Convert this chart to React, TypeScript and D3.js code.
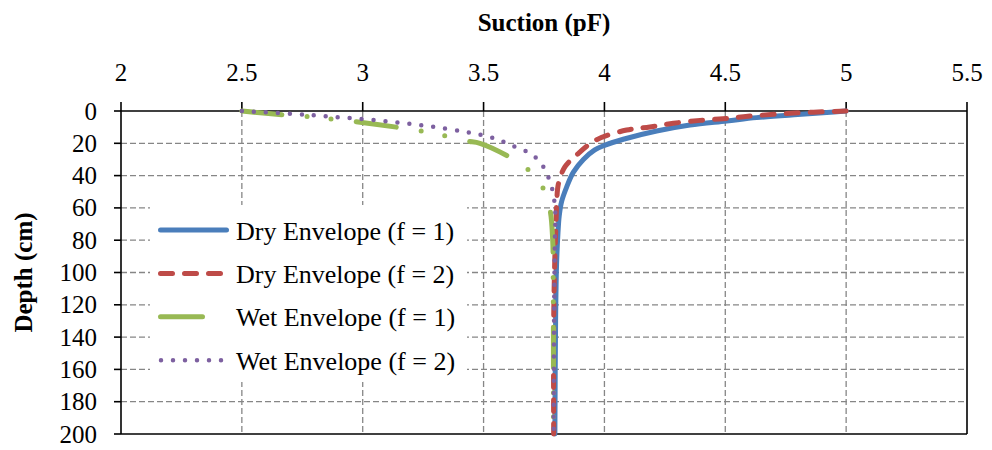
import React from 'react';
import * as d3 from 'd3';

const xTicks = [2, 2.5, 3, 3.5, 4, 4.5, 5, 5.5];
const yTicks = [0, 20, 40, 60, 80, 100, 120, 140, 160, 180, 200];
const xGrid = [2.5, 3, 3.5, 4, 4.5, 5];
const yGrid = [20, 40, 60, 80, 100, 120, 140, 160, 180];

const seriesNames = ['Dry Envelope (f = 1)', 'Dry Envelope (f = 2)', 'Wet Envelope (f = 1)', 'Wet Envelope (f = 2)'];

const dryF1Depth = [0, 1, 2.2, 4.1, 6.2, 8.7, 12.4, 17.5, 21.3, 24.1, 30, 38, 47, 56, 65, 75, 95, 130, 200];
const dryF1Suction = [5.0, 4.92, 4.8, 4.63, 4.506, 4.354, 4.216, 4.078, 4.0, 3.96, 3.913, 3.871, 3.844, 3.823, 3.813, 3.808, 3.802, 3.798, 3.795];

const dryF2Depth = [0, 1.4, 3.5, 4.8, 5.8, 7.6, 9.9, 11.8, 18, 27.2, 34.5, 44.8, 55, 68, 90, 130, 200];
const dryF2Suction = [5.0, 4.768, 4.575, 4.49, 4.396, 4.285, 4.188, 4.092, 3.965, 3.885, 3.837, 3.81, 3.803, 3.8, 3.795, 3.79, 3.79];

const wetF1Depth = [0, 2.5, 3.5, 5, 6.6, 10.3, 12.4, 15.3, 18.6, 20, 27.9, 36.1, 47.5, 61.3, 80, 100, 140, 200];
const wetF1Suction = [2.5, 2.678, 2.775, 2.874, 2.968, 3.154, 3.244, 3.34, 3.43, 3.485, 3.6, 3.683, 3.745, 3.775, 3.786, 3.788, 3.789, 3.789];

const wetF2Depth = [0, 1.7, 3.3, 5, 7.2, 9.9, 13.4, 16.7, 19.5, 22.2, 25.3, 29.4, 35.2, 41.8, 48.9, 56, 63.6, 80, 120, 200];
const wetF2Suction = [2.5, 2.703, 2.851, 3.0, 3.149, 3.296, 3.443, 3.54, 3.59, 3.63, 3.68, 3.72, 3.75, 3.77, 3.785, 3.793, 3.797, 3.795, 3.792, 3.79];

const FONT = "'Liberation Serif', 'Times New Roman', Times, serif";

export default function App() {
  const W = 992;
  const H = 450;
  const x = d3.scaleLinear().domain([2, 5.5]).range([121, 967]);
  const y = d3.scaleLinear().domain([0, 200]).range([111, 434]);

  const line = d3
    .line<[number, number]>()
    .x((d) => x(d[0]))
    .y((d) => y(d[1]))
    .curve(d3.curveCatmullRom.alpha(0.5));

  const mk = (s: number[], dp: number[]) => s.map((v, i) => [v, dp[i]] as [number, number]);

  const series = [
    { pts: mk(dryF1Suction, dryF1Depth), color: '#4A7EBB', width: 5, dash: undefined as string | undefined },
    { pts: mk(dryF2Suction, dryF2Depth), color: '#BE4B48', width: 5, dash: '12,12' },
    { pts: mk(wetF1Suction, wetF1Depth), color: '#98B954', width: 5, dash: '40,25.5,0,24,0,25.5' },
    { pts: mk(wetF2Suction, wetF2Depth), color: '#7D60A0', width: 4.5, dash: '0,12' },
  ];

  const [x0, x1] = x.range();
  const [y0, y1] = y.range();
  const legendRowY = (i: number) => 230 + i * 43.4;
  const ts = { fontFamily: FONT };

  return (
    <svg width={W} height={H} style={{ position: 'absolute', left: 0, top: 0, background: '#fff' }}>
      <rect x={0} y={0} width={W} height={H} fill="#fff" />
      {xGrid.map((t) => (
        <line key={'gx' + t} x1={x(t)} x2={x(t)} y1={y0} y2={y1} stroke="#868686" strokeWidth={1.3} strokeDasharray="6,3" />
      ))}
      {yGrid.map((t) => (
        <line key={'gy' + t} x1={x0} x2={x1} y1={y(t)} y2={y(t)} stroke="#868686" strokeWidth={1.3} strokeDasharray="6,3" />
      ))}

      <rect x={150} y={205} width={317} height={177} fill="#fff" />

      <line x1={x0} x2={x1} y1={y0} y2={y0} stroke="#000" strokeWidth={1.6} />
      <line x1={x0} x2={x1} y1={y1} y2={y1} stroke="#000" strokeWidth={1.6} />
      <line x1={x0} x2={x0} y1={y0} y2={y1} stroke="#000" strokeWidth={1.6} />
      <line x1={x1} x2={x1} y1={y0} y2={y1} stroke="#000" strokeWidth={1.6} />

      {xTicks.map((t) => (
        <g key={'xt' + t}>
          <line x1={x(t)} x2={x(t)} y1={y0 - 9} y2={y0} stroke="#000" strokeWidth={1.6} />
          <text x={x(t)} y={81} textAnchor="middle" fontSize={25} fill="#000" style={ts}>
            {t}
          </text>
        </g>
      ))}
      {yTicks.map((t) => (
        <g key={'yt' + t}>
          <line x1={x0 - 7} x2={x0} y1={y(t)} y2={y(t)} stroke="#000" strokeWidth={1.6} />
          <text x={97} y={y(t) + 8.5} textAnchor="end" fontSize={25} fill="#000" style={ts}>
            {t}
          </text>
        </g>
      ))}

      <text x={(x0 + x1) / 2} y={31} textAnchor="middle" fontSize={25} fontWeight="bold" fill="#000" style={ts}>
        Suction (pF)
      </text>
      <text
        transform={`translate(32, ${(y0 + y1) / 2}) rotate(-90)`}
        textAnchor="middle"
        fontSize={25}
        fontWeight="bold"
        fill="#000"
        style={ts}
      >
        Depth (cm)
      </text>

      {series.map((s, i) => (
        <path
          key={'s' + i}
          d={line(s.pts) || ''}
          fill="none"
          stroke={s.color}
          strokeWidth={s.width}
          strokeDasharray={s.dash}
          strokeLinecap="round"
          strokeLinejoin="round"
        />
      ))}

      <line x1={160.5} x2={226.5} y1={legendRowY(0)} y2={legendRowY(0)} stroke={series[0].color} strokeWidth={5} strokeLinecap="round" />
      <line x1={160.5} x2={220.5} y1={legendRowY(1)} y2={legendRowY(1)} stroke={series[1].color} strokeWidth={5} strokeLinecap="round" strokeDasharray="12,12" />
      <line x1={160.5} x2={202.5} y1={legendRowY(2)} y2={legendRowY(2)} stroke={series[2].color} strokeWidth={5} strokeLinecap="round" />
      <line x1={161} x2={221.5} y1={legendRowY(3)} y2={legendRowY(3)} stroke={series[3].color} strokeWidth={4.5} strokeLinecap="round" strokeDasharray="0,12" />
      {seriesNames.map((n, i) => (
        <text key={'ln' + i} x={236} y={legendRowY(i) + 9.5} fontSize={26} fill="#000" style={ts}>
          {n}
        </text>
      ))}
    </svg>
  );
}
